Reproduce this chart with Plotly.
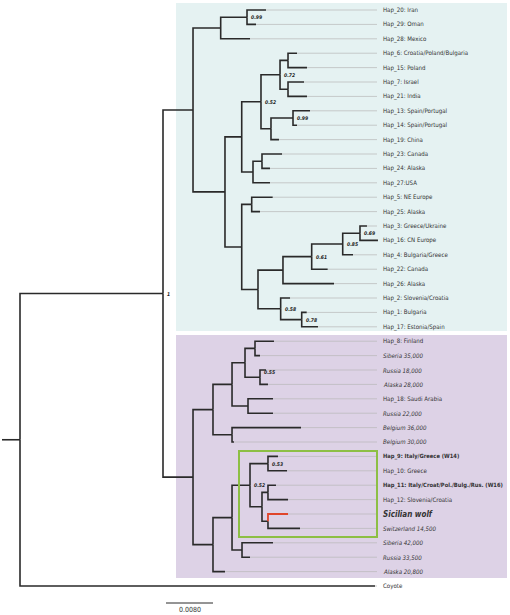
import plotly.graph_objects as go

# ---------------- data ----------------
tip_labels = [
    "Hap_20: Iran", "Hap_29: Oman", "Hap_28: Mexico", "Hap_6: Croatia/Poland/Bulgaria",
    "Hap_15: Poland", "Hap_7: Israel", "Hap_21: India", "Hap_13: Spain/Portugal",
    "Hap_14: Spain/Portugal", "Hap_19: China", "Hap_23: Canada", "Hap_24: Alaska",
    "Hap_27:USA", "Hap_5: NE Europe", "Hap_25: Alaska", "Hap_3: Greece/Ukraine",
    "Hap_16: CN Europe", "Hap_4: Bulgaria/Greece", "Hap_22: Canada", "Hap_26: Alaska",
    "Hap_2: Slovenia/Croatia", "Hap_1: Bulgaria", "Hap_17: Estonia/Spain",
    "Hap_8: Finland", "Siberia 35,000", "Russia 18,000", "Alaska 28,000",
    "Hap_18: Saudi Arabia", "Russia 22,000", "Belgium 36,000", "Belgium 30,000",
    "Hap_9: Italy/Greece (W14)", "Hap_10: Greece", "Hap_11: Italy/Croat/Pol./Bulg./Rus. (W16)",
    "Hap_12: Slovenia/Croatia", "Sicilian wolf", "Switzerland 14,500", "Siberia 42,000",
    "Russia 33,500", "Alaska 20,800", "Coyote",
]
tip_styles = [
    "r", "r", "r", "r", "r", "r", "r", "r", "r", "r", "r", "r", "r", "r", "r", "r",
    "r", "r", "r", "r", "r", "r", "r",
    "r", "i", "i", "i", "r", "i", "i", "i",
    "b", "r", "b", "r", "bi", "i", "i", "i", "i", "r",
]

# node id, parent id, distance from root (substitutions/site)
node_ids = [
    "root", "main", "Coyote", "teal", "purple",
    "P", "Q", "Hap_20: Iran", "Hap_29: Oman", "Hap_28: Mexico",
    "R", "S", "T", "U", "V", "Hap_6: Croatia/Poland/Bulgaria", "Hap_15: Poland",
    "W", "Hap_7: Israel", "Hap_21: India",
    "X", "Y", "Hap_13: Spain/Portugal", "Hap_14: Spain/Portugal", "Hap_19: China",
    "Z", "AA", "Hap_23: Canada", "Hap_24: Alaska", "Hap_27:USA",
    "AB", "AC", "Hap_5: NE Europe", "Hap_25: Alaska",
    "AD", "AE", "AF", "AG", "AH", "Hap_3: Greece/Ukraine", "Hap_16: CN Europe",
    "Hap_4: Bulgaria/Greece", "Hap_22: Canada", "Hap_26: Alaska",
    "AI", "Hap_2: Slovenia/Croatia", "AJ", "Hap_1: Bulgaria", "Hap_17: Estonia/Spain",
    "A", "B", "C", "D", "Hap_8: Finland", "Siberia 35,000",
    "E", "Russia 18,000", "Alaska 28,000",
    "F", "Hap_18: Saudi Arabia", "Russia 22,000",
    "G", "Belgium 36,000", "Belgium 30,000",
    "H", "I", "J", "L", "Hap_9: Italy/Greece (W14)", "Hap_10: Greece",
    "M", "N", "Hap_11: Italy/Croat/Pol./Bulg./Rus. (W16)", "Hap_12: Slovenia/Croatia",
    "O", "Sicilian wolf", "Switzerland 14,500",
    "K", "Siberia 42,000", "Russia 33,500", "Alaska 20,800",
]
node_parents = [
    None, "root", "root", "main", "main",
    "teal", "P", "Q", "Q", "P",
    "teal", "R", "S", "T", "U", "V", "V",
    "U", "W", "W",
    "T", "X", "Y", "Y", "X",
    "S", "Z", "AA", "AA", "Z",
    "R", "AB", "AC", "AC",
    "AB", "AD", "AE", "AF", "AG", "AH", "AH",
    "AG", "AF", "AE",
    "AD", "AI", "AI", "AJ", "AJ",
    "purple", "A", "B", "C", "D", "D",
    "C", "E", "E",
    "B", "F", "F",
    "A", "G", "G",
    "purple", "H", "I", "J", "L", "L",
    "J", "M", "N", "N",
    "M", "O", "O",
    "I", "K", "K", "H",
]
node_depths = [
    0.0, 0.02434, 0.06043, 0.02945, 0.02945,
    0.03416, 0.03864, 0.04187, 0.04017, 0.03915,
    0.03489, 0.03774, 0.04102, 0.04426, 0.04562, 0.04715, 0.04885,
    0.04562, 0.04834, 0.04885,
    0.04272, 0.04647, 0.04936, 0.04715, 0.04408,
    0.03966, 0.04119, 0.04460, 0.04255, 0.04255,
    0.03774, 0.03944, 0.04301, 0.04085,
    0.04051, 0.04476, 0.04965, 0.05493, 0.05787, 0.05906, 0.06093,
    0.05668, 0.05237, 0.05345,
    0.04437, 0.04596, 0.04795, 0.04880, 0.05072,
    0.03285, 0.03609, 0.03830, 0.04000, 0.04323, 0.04085,
    0.04085, 0.04187, 0.04221,
    0.03881, 0.04306, 0.04306,
    0.03609, 0.04783, 0.03642,
    0.03285, 0.03609, 0.03915, 0.04221, 0.04391, 0.04545,
    0.04119, 0.04221, 0.04357, 0.04562,
    0.04221, 0.04562, 0.04766,
    0.03779, 0.04306, 0.03915, 0.03489,
]

support_nodes = ["main", "Q", "U", "T", "Y", "AH", "AG", "AF", "AI", "AJ", "E", "L", "J"]
support_text = ["1", "0.99", "0.72", "0.52", "0.99", "0.69", "0.85", "0.61", "0.58",
                "0.78", "0.55", "0.53", "0.52"]

highlight_tip = "Sicilian wolf"
scale_bar_length = 0.008

# ---------------- geometry helpers ----------------
K = 0.008 / 47.0          # data units per pixel
def px_x(p):               # pixel column -> data x
    return (p - 20) * K
def px_y(p):               # pixel row -> tip index
    return (p - 10) / 14.4

depth = dict(zip(node_ids, node_depths))
parent = dict(zip(node_ids, node_parents))
children = {n: [] for n in node_ids}
for n, p in zip(node_ids, node_parents):
    if p is not None:
        children[p].append(n)

ypos = {lab: i for i, lab in enumerate(tip_labels)}
def get_y(n):
    if n in ypos:
        return ypos[n]
    ys = [get_y(c) for c in children[n]]
    ypos[n] = (min(ys) + max(ys)) / 2
    return ypos[n]
for n in node_ids:
    get_y(n)

ex, ey, rx, ry = [], [], [], []
for n in node_ids:
    p = parent[n]
    if p is None:
        continue
    xs = [depth[p], depth[p], depth[n], None]
    ys = [ypos[p], ypos[n], ypos[n], None]
    if n == highlight_tip:
        rx += xs; ry += ys
    else:
        ex += xs; ey += ys
# root stem
ex += [px_x(2), 0.0, None]
ey += [ypos["root"], ypos["root"], None]

lead_end = px_x(377)
lx, ly = [], []
for lab in tip_labels:
    if depth[lab] < lead_end - 1e-4:
        lx += [depth[lab], lead_end, None]
        ly += [ypos[lab], ypos[lab], None]

fig = go.Figure()

shapes = [
    dict(type="rect", xref="x", yref="y", x0=px_x(176), x1=px_x(507), y0=px_y(3), y1=px_y(331),
         fillcolor="#e5f2f2", line=dict(width=0), layer="below"),
    dict(type="rect", xref="x", yref="y", x0=px_x(176), x1=px_x(507), y0=px_y(335), y1=px_y(578),
         fillcolor="#ddd2e6", line=dict(width=0), layer="below"),
    dict(type="rect", xref="x", yref="y", x0=px_x(239), x1=px_x(377), y0=px_y(451), y1=px_y(537),
         fillcolor="rgba(0,0,0,0)", line=dict(color="#8dbf45", width=2)),
]

fig.add_trace(go.Scatter(x=lx, y=ly, mode="lines", line=dict(color="#b8b8b8", width=0.7),
                         hoverinfo="skip", showlegend=False))
fig.add_trace(go.Scatter(x=ex, y=ey, mode="lines", line=dict(color="#2a2a2a", width=1.6),
                         hoverinfo="skip", showlegend=False))
fig.add_trace(go.Scatter(x=rx, y=ry, mode="lines", line=dict(color="#e0452b", width=1.8),
                         hoverinfo="skip", showlegend=False))

# scale bar
sb_x0 = px_x(166)
fig.add_trace(go.Scatter(x=[sb_x0, sb_x0 + scale_bar_length], y=[px_y(603), px_y(603)],
                         mode="lines", line=dict(color="#2a2a2a", width=1),
                         hoverinfo="skip", showlegend=False))

FONT = "DejaVu Sans Condensed, DejaVu Sans, sans-serif"
ann = []
for lab, st in zip(tip_labels, tip_styles):
    txt = lab
    size = 6.1
    if st == "i":
        txt = "<i>" + lab + "</i>"
    elif st == "b":
        txt = "<b>" + lab + "</b>"
        size = 5.75
    elif st == "bi":
        txt = "<b><i>" + lab + "</i></b>"
        size = 8
    ann.append(dict(x=px_x(381), y=ypos[lab], text=txt, xanchor="left", yanchor="middle",
                    showarrow=False, font=dict(family=FONT, size=size, color="#333333")))

for n, t in zip(support_nodes, support_text):
    ann.append(dict(x=depth[n], y=ypos[n], text="<b><i>" + t + "</i></b>", xanchor="left",
                    yanchor="middle", xshift=2, yshift=(5 if n == "E" else 0), showarrow=False,
                    font=dict(family=FONT, size=5, color="#222222")))

ann.append(dict(x=sb_x0 + scale_bar_length / 2, y=px_y(610), text="0.0080", xanchor="center",
                yanchor="middle", showarrow=False,
                font=dict(family=FONT, size=7, color="#333333")))

fig.update_layout(
    width=510, height=615, margin=dict(l=0, r=0, t=0, b=0, autoexpand=False),
    paper_bgcolor="white", plot_bgcolor="white",
    xaxis=dict(range=[px_x(0), px_x(510)], visible=False, fixedrange=True),
    yaxis=dict(range=[px_y(615), px_y(0)], visible=False, fixedrange=True),
    shapes=shapes, annotations=ann, showlegend=False,
)

fig.write_html("out.html", config={"displayModeBar": False},
               post_script="document.body.style.margin='0';document.body.style.overflow='hidden';")
